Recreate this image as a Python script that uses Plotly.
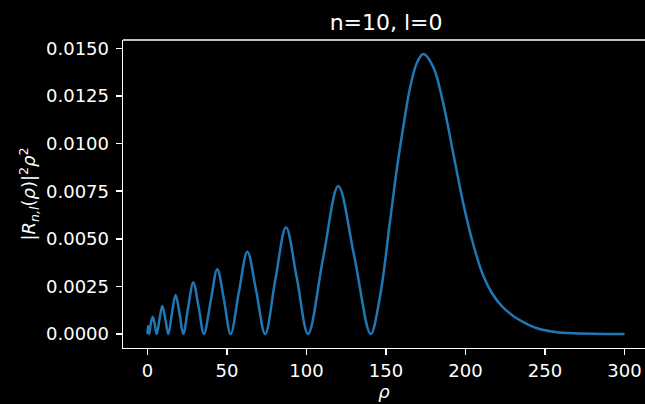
import plotly.graph_objects as go

# Values
rho = [0, 0.3, 1.1, 2.2, 3.3, 4.6, 5.8, 7.6, 9.3, 11.2, 13.1, 15.4, 17.7, 20.1, 22.5,
       25.6, 28.8, 32.2, 35.5, 39.7, 43.9, 48.1, 52.3, 57.5, 62.8, 68.3, 74.0,
       80.5, 87.1, 94.0, 101.0, 110.5, 120.0, 130.0, 140.4, 146.2, 152.5, 156.7,
       160.9, 165.1, 169.3, 173.5, 179.7, 186.0, 192.3, 198.6, 204.9, 211.0,
       217.0, 223.0, 230.0, 237.0, 245.0, 255.0, 265.0, 280.0, 300.0]
prob = [0.0, 0.00042, 0.0, 0.0006, 0.00091, 0.0005, 0.0, 0.0008, 0.00147, 0.0008, 0.0,
        0.0011, 0.00205, 0.0011, 0.0, 0.0014, 0.0027, 0.0014, 0.0, 0.0017, 0.0034,
        0.0018, 0.0, 0.0022, 0.00432, 0.0023, 0.0, 0.0029, 0.0056, 0.0029, 0.0,
        0.0040, 0.00777, 0.0041, 0.0, 0.00196, 0.0059, 0.0086, 0.0109, 0.01292,
        0.01421, 0.0147, 0.01403, 0.01211, 0.00949, 0.00686, 0.0047, 0.0031,
        0.0021, 0.00145, 0.00095, 0.0006, 0.0003, 0.00012, 0.00005, 0.00001, 0.0]

x_ticks = [0, 50, 100, 150, 200, 250, 300]
y_ticks = [0.0, 0.0025, 0.005, 0.0075, 0.01, 0.0125, 0.015]
y_tick_labels = ["0.0000", "0.0025", "0.0050", "0.0075", "0.0100", "0.0125", "0.0150"]

title_text = "n=10, l=0"
x_label = "<i>ρ</i>"
y_label = "|<i>R</i><sub><i>n,l</i></sub>(<i>ρ</i>)|<sup>2</sup><i>ρ</i><sup>2</sup>"

FONT = "DejaVu Sans"
WHITE = "#ffffff"

fig = go.Figure()
fig.add_trace(go.Scatter(
    x=rho, y=prob, mode="lines",
    line=dict(color="#1f77b4", width=2.5, shape="spline", smoothing=1.0),
    showlegend=False, hoverinfo="skip",
))

fig.update_layout(
    width=645, height=404,
    paper_bgcolor="black", plot_bgcolor="black",
    margin=dict(l=123, r=0, t=40, b=56),
    font=dict(family=FONT, size=18, color=WHITE),
    title=dict(text=title_text, x=0.504, xref="paper", xanchor="center",
               y=1 - 22 / 404, yref="container", yanchor="middle",
               font=dict(size=22, color=WHITE, family=FONT)),
    xaxis=dict(
        range=[-15.4, 312.9], tickvals=x_ticks, ticktext=[str(v) for v in x_ticks],
        showgrid=False, zeroline=False, showline=True, linecolor=WHITE, linewidth=1.4,
        ticks="outside", ticklen=6, tickwidth=1.4, tickcolor=WHITE,
        tickfont=dict(size=18, color=WHITE, family=FONT),
        title=dict(text=x_label, font=dict(size=18, color=WHITE, family=FONT), standoff=2),
    ),
    yaxis=dict(
        range=[-0.000735, 0.01544], tickvals=y_ticks, ticktext=y_tick_labels,
        showgrid=False, zeroline=False, showline=True, linecolor=WHITE, linewidth=1.4,
        ticks="outside", ticklen=6, tickwidth=1.4, tickcolor=WHITE,
        ticklabelstandoff=3,
        tickfont=dict(size=18, color=WHITE, family=FONT),
        title=dict(text=y_label, font=dict(size=18, color=WHITE, family=FONT), standoff=5),
    ),
    shapes=[dict(type="line", xref="paper", yref="paper", x0=0, x1=1, y0=1, y1=1,
                 line=dict(color=WHITE, width=1.4))],
)

fig.write_html(
    "out.html",
    config={"displayModeBar": False, "staticPlot": True},
    post_script="document.body.style.margin='0';document.body.style.padding='0';"
                "document.body.style.background='black';document.body.style.overflow='hidden';",
)
